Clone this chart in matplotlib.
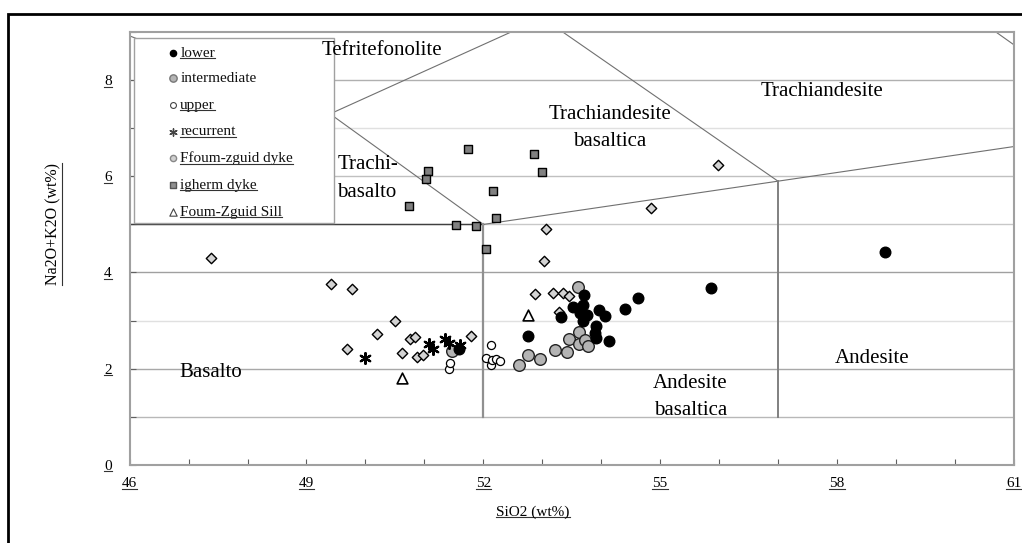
import matplotlib
matplotlib.use("Agg")
import matplotlib.pyplot as plt
from matplotlib.lines import Line2D
from matplotlib.patches import Rectangle

plt.rcParams['font.family'] = ['Liberation Serif', 'DejaVu Serif']

# datos (SiO2, Na2O+K2O)
lower_x = [51.58, 52.76, 53.32, 53.53, 53.69, 53.71, 53.64, 53.76, 53.70, 53.97,
           54.06, 53.91, 53.89, 53.92, 54.14, 54.41, 54.62, 55.86, 58.82]
lower_y = [2.40, 2.68, 3.08, 3.28, 3.33, 3.53, 3.16, 3.12, 3.00, 3.21,
           3.10, 2.88, 2.75, 2.64, 2.57, 3.23, 3.46, 3.67, 4.42]

inter_x = [51.47, 52.60, 52.75, 52.97, 53.22, 53.42, 53.45, 53.62, 53.63, 53.73, 53.77, 53.60]
inter_y = [2.37, 2.07, 2.28, 2.19, 2.38, 2.34, 2.62, 2.51, 2.76, 2.59, 2.46, 3.70]

upper_x = [51.41, 51.44, 52.05, 52.13, 52.13, 52.15, 52.21, 52.29]
upper_y = [2.00, 2.11, 2.22, 2.49, 2.07, 2.18, 2.20, 2.15]

recur_x = [50.00, 51.08, 51.15, 51.35, 51.42, 51.60]
recur_y = [2.21, 2.51, 2.40, 2.62, 2.53, 2.50]

ffoum_x = [47.38, 49.41, 49.77, 50.50, 50.20, 49.68, 50.75, 50.84, 50.62, 50.87, 50.97,
           51.79, 52.88, 53.18, 53.36, 53.45, 53.28, 53.06, 53.03, 54.85, 55.99]
ffoum_y = [4.31, 3.75, 3.65, 2.98, 2.73, 2.41, 2.61, 2.65, 2.33, 2.25, 2.28,
           2.68, 3.55, 3.57, 3.57, 3.52, 3.18, 4.91, 4.24, 5.35, 6.24]

igherm_x = [51.74, 52.86, 51.07, 52.99, 51.03, 52.16, 50.74, 52.22, 51.53, 51.88, 52.04]
igherm_y = [6.57, 6.47, 6.12, 6.09, 5.94, 5.70, 5.39, 5.14, 4.99, 4.97, 4.48]

sill_x = [50.62, 52.76]
sill_y = [1.80, 3.12]

# limites del diagrama TAS
lineas_tas = [
    ([52, 57, 63], [5, 5.9, 6.98]),
    ([45, 49.4, 52], [9.4, 7.3, 5]),
    ([49.4, 53.6], [7.3, 9.63]),
    ([53, 57], [9.3, 5.9]),
    ([57.6, 63], [11.7, 7]),
]

etiquetas = [
    ("Tefritefonolite", 49.26, 8.61, 'left'),
    ("Trachiandesite", 56.70, 7.76, 'left'),
    ("Trachiandesite", 54.15, 7.28, 'center'),
    ("basaltica", 54.15, 6.72, 'center'),
    ("Trachi-", 49.52, 6.24, 'left'),
    ("basalto", 49.52, 5.67, 'left'),
    ("Basalto", 46.85, 1.91, 'left'),
    ("Andesite", 57.96, 2.22, 'left'),
    ("Andesite", 55.51, 1.70, 'center'),
    ("basaltica", 55.51, 1.12, 'center'),
]

fig = plt.figure(figsize=(10.22, 5.43), dpi=100)
ax = fig.add_axes([0.1269, 0.1442, 0.865, 0.7965])

# marco de la figura
fig.add_artist(Rectangle((0.0078, -0.1), 1.2, 1.074, transform=fig.transFigure,
                         fill=False, edgecolor='black', linewidth=2, clip_on=False))

grid_cols = {1: '#b8b8b8', 2: '#a8a8a8', 3: '#e0e0e0', 4: '#a0a0a0',
             5: '#c8c8c8', 6: '#c0c0c0', 7: '#e0e0e0', 8: '#b0b0b0'}
for yv, c in grid_cols.items():
    ax.axhline(yv, color=c, lw=1.0, zorder=1)

for xs, ys in lineas_tas:
    ax.plot(xs, ys, color='#707070', lw=0.8, zorder=2)
ax.plot([46, 52], [5, 5], color='#404040', lw=1.0, zorder=2)
ax.plot([52, 52], [1, 5], color='#909090', lw=1.6, zorder=2)
ax.plot([57, 57], [1, 5.9], color='#808080', lw=1.4, zorder=2)

for t, x, y, ha in etiquetas:
    ax.text(x, y, t, fontsize=15, ha=ha, va='center', zorder=10)

ax.scatter(ffoum_x, ffoum_y, marker='D', s=28, facecolor='#d4d4d4', edgecolor='black', lw=1.0, zorder=4)
ax.scatter(igherm_x, igherm_y, marker='s', s=34, facecolor='#808080', edgecolor='black', lw=1.0, zorder=4)
ax.scatter(upper_x, upper_y, marker='o', s=34, facecolor='white', edgecolor='black', lw=0.9, zorder=4)
ax.scatter(inter_x, inter_y, marker='o', s=70, facecolor='#b4b4b4', edgecolor='#222222', lw=1.0, zorder=5)
ax.scatter(lower_x, lower_y, marker='o', s=58, facecolor='black', edgecolor='black', zorder=6)
ax.scatter(recur_x, recur_y, marker=(6, 2, 0), s=60, color='black', lw=1.6, zorder=6)
ax.scatter(sill_x, sill_y, marker='^', s=60, facecolor='white', edgecolor='black', lw=1.2, zorder=6)

ax.set_xlim(46, 61)
ax.set_ylim(0, 9)
ax.set_xticks(range(46, 62, 3))
ax.set_xticks(range(46, 62), minor=True)
ax.set_yticks(range(0, 9, 2))
ax.set_yticks(range(0, 10), minor=True)
ax.tick_params(which='both', direction='in', color='#606060', length=4, width=0.8)
ax.tick_params(axis='x', which='major', pad=9, labelsize=11)
ax.tick_params(axis='y', which='major', pad=13, labelsize=11)
for s in ax.spines.values():
    s.set_color('#a0a0a0')
    s.set_linewidth(1.5)

# leyenda dibujada a mano
ax.add_patch(Rectangle((0.005, 0.558), 0.2266, 0.4286, transform=ax.transAxes,
                       facecolor='white', edgecolor='#a0a0a0', lw=1.0, zorder=8))
ley = [
    ("lower", dict(marker='o', s=20, facecolor='black', edgecolor='black'), True),
    ("intermediate", dict(marker='o', s=28, facecolor='#b4b4b4', edgecolor='#777777'), False),
    ("upper", dict(marker='o', s=18, facecolor='white', edgecolor='#444444', lw=0.8), True),
    ("recurrent", dict(marker=(6, 2, 0), s=28, color='#444444', lw=1.0), True),
    ("Ffoum-zguid dyke", dict(marker='o', s=20, facecolor='#d0d0d0', edgecolor='#888888'), True),
    ("igherm dyke", dict(marker='s', s=22, facecolor='#909090', edgecolor='#555555'), True),
    ("Foum-Zguid Sill", dict(marker='^', s=28, facecolor='white', edgecolor='#444444', lw=0.8), True),
]
ley_y = [0.951, 0.893, 0.831, 0.770, 0.708, 0.646, 0.584]
ley_textos = []
for (lab, kw, sub), yy in zip(ley, ley_y):
    ax.scatter([0.0487], [yy], transform=ax.transAxes, zorder=9, clip_on=False, **kw)
    t = ax.text(0.0572, yy, lab, transform=ax.transAxes, fontsize=11, va='center',
                ha='left', zorder=9, color='#111111')
    if sub:
        ley_textos.append(t)

xl = fig.text(533 / 1022, 1 - 512 / 543, "SiO2 (wt%)", fontsize=11, ha='center', va='center')
yl = fig.text(53 / 1022, 1 - 224 / 543, "Na2O+K2O (wt%)", fontsize=11.5, ha='center',
              va='center', rotation=90)

# subrayado de textos
fig.canvas.draw()
r = fig.canvas.get_renderer()
W, H = fig.bbox.width, fig.bbox.height


def subrayar(txt, vertical=False):
    bb = txt.get_window_extent(r)
    if vertical:
        x = bb.x1 + 0.5
        fig.add_artist(Line2D([x / W, x / W], [bb.y0 / H, bb.y1 / H], lw=0.8, color='#333333'))
    else:
        y = bb.y0 + 1.5
        fig.add_artist(Line2D([bb.x0 / W, bb.x1 / W], [y / H, y / H], lw=0.8, color='#333333'))


for t in ax.get_xticklabels() + ax.get_yticklabels() + ley_textos + [xl]:
    subrayar(t)
subrayar(yl, vertical=True)

fig.savefig("out.png", dpi=100)
